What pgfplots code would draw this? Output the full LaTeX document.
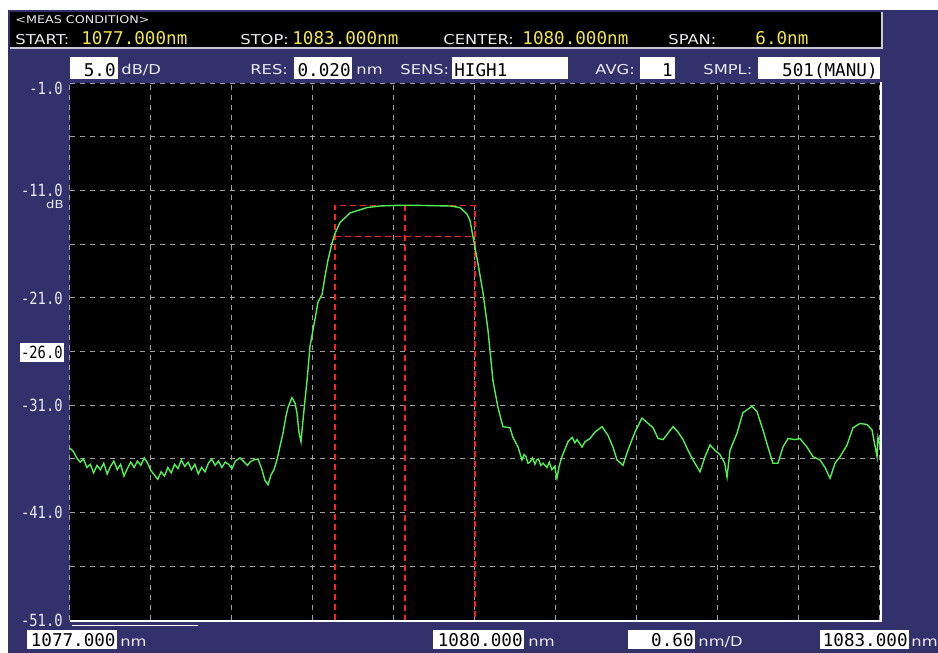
\documentclass[border=0pt]{standalone}
\usepackage{pgfplots}
\pgfplotsset{compat=1.18}
\usepackage{fontspec}
\setmainfont{DejaVu Sans}
\newfontfamily\lblf[FakeStretch=1.2]{DejaVu Sans}
\newfontfamily\digf{DejaVu Sans Mono}
\newfontfamily\digc[FakeStretch=0.82]{DejaVu Sans Mono}
\definecolor{navy}{RGB}{50,49,107}
\definecolor{osagreen}{RGB}{80,240,80}
\definecolor{osared}{RGB}{255,30,30}
\definecolor{osayel}{RGB}{240,230,70}
\definecolor{osagrid}{RGB}{160,160,160}
\definecolor{osawhite}{RGB}{235,235,240}
\newcommand{\LblA}{\lblf\fontsize{6.8}{8}\selectfont}
\newcommand{\LblS}{\lblf\fontsize{5.3}{6}\selectfont}
\newcommand{\DigA}{\digf\fontsize{8.8}{9}\selectfont}
\newcommand{\DigC}{\digc\fontsize{8.4}{9}\selectfont}
\pgfplotstableread{
lam db
1077.000 -35.0
1077.025 -35.3
1077.050 -35.9
1077.075 -36.3
1077.100 -36.0
1077.125 -36.8
1077.150 -36.5
1077.175 -37.3
1077.200 -36.6
1077.225 -37.0
1077.250 -36.4
1077.275 -37.4
1077.300 -36.7
1077.325 -36.2
1077.350 -37.0
1077.375 -36.5
1077.400 -37.6
1077.425 -36.9
1077.450 -36.3
1077.475 -36.8
1077.500 -36.2
1077.525 -36.6
1077.550 -35.9
1077.575 -36.4
1077.600 -37.1
1077.625 -37.5
1077.650 -37.9
1077.675 -37.2
1077.700 -37.6
1077.725 -36.8
1077.750 -37.3
1077.775 -36.5
1077.800 -36.9
1077.825 -36.1
1077.850 -36.7
1077.875 -36.3
1077.900 -37.0
1077.925 -36.5
1077.950 -37.4
1077.975 -36.8
1078.000 -37.2
1078.025 -36.4
1078.050 -36.0
1078.075 -36.6
1078.100 -36.2
1078.125 -36.8
1078.150 -36.3
1078.175 -36.5
1078.200 -36.9
1078.225 -36.2
1078.259 -35.9
1078.290 -36.3
1078.315 -36.6
1078.333 -36.3
1078.360 -36.1
1078.393 -36.0
1078.422 -37.0
1078.444 -38.0
1078.467 -38.4
1078.489 -37.5
1078.511 -37.0
1078.533 -36.1
1078.556 -34.8
1078.578 -33.6
1078.600 -32.0
1078.615 -31.2
1078.644 -30.3
1078.667 -30.8
1078.681 -31.7
1078.696 -33.5
1078.711 -34.4
1078.726 -32.4
1078.741 -30.5
1078.756 -28.7
1078.778 -25.5
1078.800 -24.0
1078.822 -22.5
1078.837 -21.4
1078.867 -20.7
1078.889 -19.0
1078.911 -17.5
1078.941 -15.9
1078.963 -15.0
1079.000 -14.0
1079.074 -13.1
1079.200 -12.6
1079.296 -12.45
1079.400 -12.4
1079.600 -12.4
1079.815 -12.45
1079.889 -12.6
1079.941 -13.2
1079.963 -13.8
1079.985 -15.3
1080.022 -17.8
1080.059 -20.5
1080.096 -24.0
1080.133 -28.7
1080.170 -31.2
1080.207 -33.0
1080.259 -33.1
1080.281 -34.0
1080.319 -34.9
1080.348 -36.1
1080.363 -35.6
1080.378 -35.8
1080.392 -36.4
1080.407 -36.3
1080.425 -35.9
1080.444 -36.5
1080.457 -36.1
1080.470 -36.0
1080.487 -36.6
1080.504 -36.4
1080.533 -36.8
1080.550 -36.3
1080.570 -37.0
1080.590 -36.7
1080.607 -37.8
1080.625 -36.6
1080.644 -35.8
1080.689 -34.4
1080.720 -34.0
1080.740 -34.5
1080.756 -34.2
1080.793 -34.9
1080.815 -34.4
1080.852 -34.1
1080.889 -33.5
1080.941 -33.0
1080.985 -33.8
1081.022 -34.9
1081.052 -36.1
1081.096 -36.6
1081.133 -35.2
1081.185 -33.5
1081.237 -32.2
1081.274 -32.6
1081.319 -33.1
1081.356 -34.1
1081.393 -34.2
1081.430 -33.6
1081.467 -33.0
1081.504 -33.5
1081.541 -34.2
1081.578 -35.2
1081.615 -36.1
1081.667 -37.2
1081.704 -35.8
1081.741 -34.7
1081.778 -35.2
1081.815 -35.6
1081.850 -36.4
1081.867 -37.7
1081.889 -35.2
1081.941 -33.6
1081.985 -31.7
1082.052 -31.1
1082.089 -31.6
1082.133 -33.3
1082.170 -34.9
1082.207 -36.4
1082.244 -36.4
1082.281 -34.9
1082.319 -34.1
1082.370 -34.2
1082.407 -34.1
1082.459 -34.9
1082.504 -35.8
1082.556 -36.1
1082.593 -36.8
1082.630 -37.8
1082.667 -36.4
1082.704 -35.8
1082.756 -34.7
1082.800 -33.1
1082.852 -32.7
1082.904 -32.8
1082.941 -33.3
1082.978 -35.8
1082.985 -34.0
1083.000 -34.7
}\spectrum
\begin{document}
\begin{tikzpicture}
\begin{scope}[x=0.5pt,y=-0.5pt]
\fill[white] (0,0) rectangle (938,653);
\fill[navy] (8,10) rectangle (938,653);
% header
\fill[black] (10,12) rectangle (882,47);
\draw[osawhite!80!navy, line width=1pt] (10,47.5) -- (882,47.5) -- (882,12);
\node[anchor=base west, inner sep=0pt, text=osawhite] at (15,24) {\LblS <MEAS CONDITION>};
\node[anchor=base west, inner sep=0pt, text=osawhite] at (15,44) {\LblA START:};
\node[anchor=base west, inner sep=0pt, text=osayel] at (81,44) {\DigA 1077.000nm};
\node[anchor=base west, inner sep=0pt, text=osawhite] at (240,44) {\LblA STOP:};
\node[anchor=base west, inner sep=0pt, text=osayel] at (292,44) {\DigA 1083.000nm};
\node[anchor=base west, inner sep=0pt, text=osawhite] at (443,44) {\LblA CENTER:};
\node[anchor=base west, inner sep=0pt, text=osayel] at (522,44) {\DigA 1080.000nm};
\node[anchor=base west, inner sep=0pt, text=osawhite] at (668,44) {\LblA SPAN:};
\node[anchor=base west, inner sep=0pt, text=osayel] at (755,44) {\DigA 6.0nm};
% second row
\fill[white] (70,57) rectangle (118,79);
\node[anchor=base east, inner sep=0pt] at (116,76) {\DigA 5.0};
\node[anchor=base west, inner sep=0pt, text=osawhite] at (121,75) {\LblA dB/D};
\node[anchor=base west, inner sep=0pt, text=osawhite] at (250,75) {\LblA RES:};
\fill[white] (294,57) rectangle (352,79);
\node[anchor=base east, inner sep=0pt] at (351,76) {\DigA 0.020};
\node[anchor=base west, inner sep=0pt, text=osawhite] at (356,75) {\LblA nm};
\node[anchor=base west, inner sep=0pt, text=osawhite] at (400,75) {\LblA SENS:};
\fill[white] (452,57) rectangle (568,79);
\node[anchor=base west, inner sep=0pt] at (454,76) {\DigA HIGH1};
\node[anchor=base west, inner sep=0pt, text=osawhite] at (595,75) {\LblA AVG:};
\fill[white] (640,57) rectangle (675,79);
\node[anchor=base east, inner sep=0pt] at (673,76) {\DigA 1};
\node[anchor=base west, inner sep=0pt, text=osawhite] at (703,75) {\LblA SMPL:};
\fill[white] (758,57) rectangle (880,79);
\node[anchor=base east, inner sep=0pt] at (878,76) {\DigA 501(MANU)};
\end{scope}
\begin{axis}[at={(35pt,-310pt)}, anchor=south west,
  width=405pt, height=268.5pt, scale only axis,
  xmin=1077, xmax=1083, ymin=-51, ymax=-1,
  axis background/.style={fill=black},
  axis line style={draw=none},
  xtick={1077,1077.6,...,1083.1}, ytick={-51,-46,...,-1},
  xticklabels={}, yticklabels={},
  major tick length=0pt,
  grid=major,
  major grid style={osagrid, line width=0.5pt, dash pattern=on 2.5pt off 2.5pt},
  clip=true]
\addplot[osared, line width=0.9pt, dash pattern=on 3pt off 2pt] coordinates {(1078.963,-51) (1078.963,-12.4) (1080.0,-12.4) (1080.0,-51)};
\addplot[osared, line width=0.9pt, dash pattern=on 3pt off 2pt] coordinates {(1078.963,-15.3) (1080.0,-15.3)};
\addplot[osared, line width=0.9pt, dash pattern=on 3pt off 2pt] coordinates {(1079.48,-12.4) (1079.48,-51)};
\addplot[osagreen, line width=0.7pt] table[x=lam, y=db] {\spectrum};
\end{axis}
\begin{scope}[x=0.5pt,y=-0.5pt]
\draw[white, line width=1pt] (70,621) -- (881,621) -- (881,82);
\draw[white, line width=0.8pt] (72,625.5) -- (198,625.5);
% y labels
\node[anchor=base east, inner sep=0pt, text=osawhite] at (63,94) {\DigC -1.0};
\node[anchor=base east, inner sep=0pt, text=osawhite] at (63,196) {\DigC -11.0};
\node[anchor=base east, inner sep=0pt, text=osawhite] at (64,208) {\lblf\fontsize{5.5}{6}\selectfont dB};
\node[anchor=base east, inner sep=0pt, text=osawhite] at (63,304) {\DigC -21.0};
\fill[white] (20,343) rectangle (64,362);
\node[anchor=base east, inner sep=0pt] at (63,358) {\DigC -26.0};
\node[anchor=base east, inner sep=0pt, text=osawhite] at (63,411) {\DigC -31.0};
\node[anchor=base east, inner sep=0pt, text=osawhite] at (63,518) {\DigC -41.0};
\node[anchor=base east, inner sep=0pt, text=osawhite] at (63,626) {\DigC -51.0};
% bottom labels
\fill[white] (27,630) rectangle (117,649);
\node[anchor=base east, inner sep=0pt] at (116,646) {\DigA 1077.000};
\node[anchor=base west, inner sep=0pt, text=osawhite] at (120,646) {\LblA nm};
\fill[white] (433,630) rectangle (524,649);
\node[anchor=base east, inner sep=0pt] at (523,646) {\DigA 1080.000};
\node[anchor=base west, inner sep=0pt, text=osawhite] at (528,646) {\LblA nm};
\fill[white] (628,630) rectangle (695,649);
\node[anchor=base east, inner sep=0pt] at (694,646) {\DigA 0.60};
\node[anchor=base west, inner sep=0pt, text=osawhite] at (698,646) {\LblA nm/D};
\fill[white] (820,630) rectangle (909,649);
\node[anchor=base east, inner sep=0pt] at (908,646) {\DigA 1083.000};
\node[anchor=base west, inner sep=0pt, text=osawhite] at (911,646) {\LblA nm};
\end{scope}
\end{tikzpicture}
\end{document}
